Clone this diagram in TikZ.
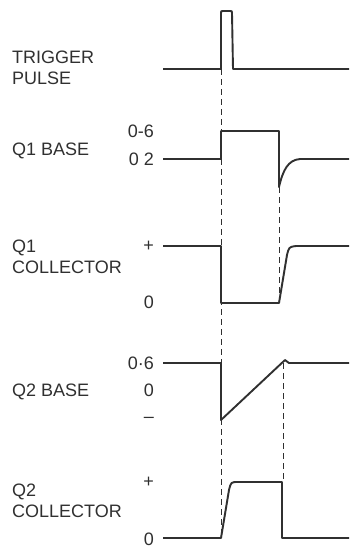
\documentclass[tikz,border=0pt]{standalone}
\usepackage{fontspec}
\setmainfont{Liberation Sans}
\definecolor{ink}{HTML}{303030}
\begin{document}
\begin{tikzpicture}[x=1pt,y=-1pt,
  wave/.style={ink, line width=1.9pt, line join=round},
  guide/.style={ink, line width=0.9pt, dash pattern=on 6pt off 4pt},
  lbl/.style={ink, anchor=base west, inner sep=0pt, font=\fontsize{18}{21}\selectfont},
  val/.style={ink, anchor=east, inner sep=0pt, font=\fontsize{18}{21}\selectfont}]
\useasboundingbox (0,0) rectangle (349,549);
\node[lbl] (trig) at (12,63) {TRIGGER};
\node[lbl] (pulse) at (12,84) {PULSE};
\node[lbl] (qabase) at (12,155) {Q1 BASE};
\node[lbl] (qa) at (12,252) {Q1};
\node[lbl] (qacoll) at (12,273) {COLLECTOR};
\node[lbl] (qbbase) at (12,396) {Q2 BASE};
\node[lbl] (qb) at (12,496) {Q2};
\node[lbl] (qbcoll) at (12,517) {COLLECTOR};
\node[val] (qabhi) at (154,131) {0-6};
\node[val] (qablo) at (154,159) {0 2};
\node[val] (qacpl) at (154,246) {+};
\node[val] (qaczr) at (154,302) {0};
\node[val] (qbbhi) at (154,363) {0·6};
\node[val] (qbbzr) at (154,390) {0};
\node[val] (qbbmi) at (154,420) {–};
\node[val] (qbcpl) at (154,482) {+};
\node[val] (qbczr) at (154,539) {0};
\coordinate (trigup) at (221,69);
\coordinate (qbcrise) at (221,538);
\coordinate (qabfall) at (279,187);
\coordinate (qacrise) at (279,303);
\coordinate (qbbpeak) at (283,363);
\coordinate (qbcfall) at (283,482);
\draw[guide] (trigup) -- (qbcrise);
\draw[guide] (qabfall) -- (qacrise);
\draw[guide] (qbbpeak) -- (qbcfall);
\draw[wave] (163,69) -- (221,69) -- (221,13) .. controls (221,11) .. (223,11) -- (230,11) .. controls (232,11) .. (232,13) -- (233,69) -- (349,69);
\draw[wave] (163,159) -- (221,159) -- (221,131) -- (279,131) -- (279,187) .. controls (283,170) and (288,160) .. (300,159) -- (349,159);
\draw[wave] (163,246) -- (221,246) -- (221,303) -- (279,303) -- (287,255) .. controls (289,247) .. (296,246) -- (349,246);
\draw[wave] (163,363) -- (221,363) -- (221,420) -- (285,360) -- (289,363) -- (349,363);
\draw[wave] (163,538) -- (221,538) -- (229,490) .. controls (231,482) .. (238,482) -- (282,482) -- (282,538) -- (349,538);
\end{tikzpicture}
\end{document}
